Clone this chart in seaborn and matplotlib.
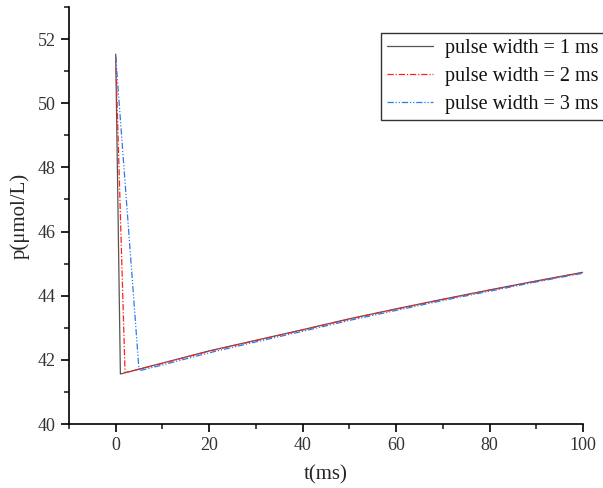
import numpy as np
import pandas as pd
import matplotlib
matplotlib.use('Agg')
import matplotlib.pyplot as plt
from matplotlib.ticker import MultipleLocator
import seaborn as sns

sns.set_style("ticks")
plt.rcParams['font.family'] = ['Liberation Serif', 'DejaVu Serif']

# Données
t_1ms = [0, 1, 10, 20, 30, 40, 50, 60, 70, 80, 90, 100]
p_1ms = [51.53, 41.56, 41.90, 42.28, 42.61, 42.94, 43.28, 43.59, 43.89, 44.18, 44.46, 44.73]

t_2ms = [0, 2, 10, 20, 30, 40, 50, 60, 70, 80, 90, 100]
p_2ms = [51.45, 41.60, 41.89, 42.27, 42.60, 42.93, 43.27, 43.58, 43.88, 44.17, 44.45, 44.72]

t_3ms = [0, 5, 10, 20, 30, 40, 50, 60, 70, 80, 90, 100]
p_3ms = [51.45, 41.66, 41.84, 42.22, 42.56, 42.89, 43.23, 43.54, 43.85, 44.14, 44.43, 44.70]

labels = ['pulse width = 1 ms', 'pulse width = 2 ms', 'pulse width = 3 ms']
couleurs = ['#555555', '#ff2020', '#2f7be6']
styles = ['-', (0, (5, 1.5, 1, 1.5)), (0, (5, 1.5, 1, 1.5, 1, 1.5))]

fig = plt.figure(figsize=(6.03, 4.88), dpi=100)
ax = fig.add_axes([0.1144, 0.1311, 0.8524, 0.8546])

for t, p, lab, c, ls in zip([t_1ms, t_2ms, t_3ms], [p_1ms, p_2ms, p_3ms],
                            labels, couleurs, styles):
    df = pd.DataFrame({'t': t, 'p': p})
    sns.lineplot(data=df, x='t', y='p', color=c, linestyle=ls,
                 linewidth=0.9, label=lab, ax=ax, sort=False)

ax.set_xlim(-10, 100)
ax.set_ylim(40, 53)
ax.xaxis.set_major_locator(MultipleLocator(20))
ax.xaxis.set_minor_locator(MultipleLocator(10))
ax.yaxis.set_major_locator(MultipleLocator(2))
ax.yaxis.set_minor_locator(MultipleLocator(1))
ax.tick_params(which='major', direction='out', length=6, width=1.2,
               labelsize=13, colors='black', labelcolor='#333333')
ax.tick_params(which='minor', direction='out', length=3.5, width=1.2)
for s in ['top', 'right']:
    ax.spines[s].set_visible(False)
for s in ['left', 'bottom']:
    ax.spines[s].set_linewidth(1.2)
    ax.spines[s].set_color('black')

ax.set_xlabel('t(ms)', fontsize=15, labelpad=8)
ax.set_ylabel('p(μmol/L)', fontsize=15, labelpad=6)

leg = ax.legend(loc='upper left', bbox_to_anchor=(0.632, 0.933),
                bbox_transform=fig.transFigure, fontsize=14.5, frameon=True,
                fancybox=False, edgecolor='black', handlelength=2.3,
                borderpad=0.3, labelspacing=0.45, handletextpad=0.55,
                borderaxespad=0)
leg.get_frame().set_linewidth(1.0)
for txt in leg.get_texts():
    txt.set_color('#111111')

fig.savefig('out.png', dpi=100)
